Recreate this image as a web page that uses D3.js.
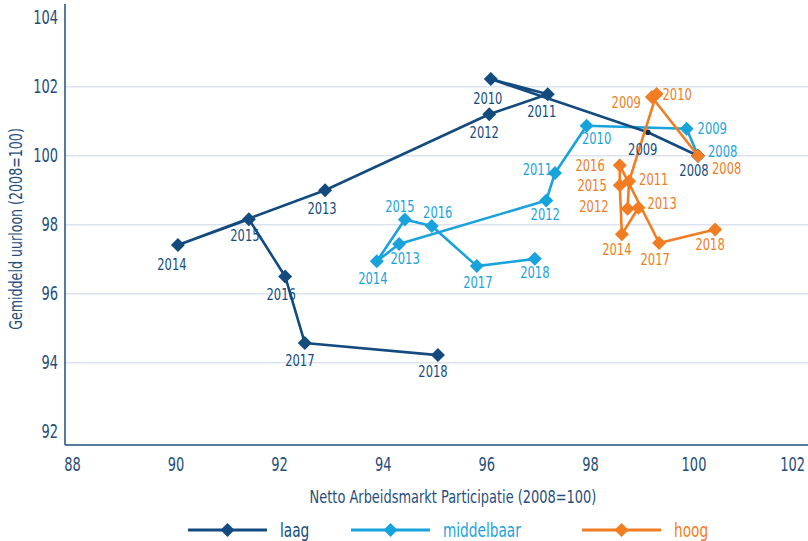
<!DOCTYPE html>
<html><head><meta charset="utf-8">
<script src="https://cdn.jsdelivr.net/npm/d3@7"></script>
<style>
html,body{margin:0;padding:0;background:#fff;}
svg text{font-family:"Liberation Sans Narrow","DejaVu Sans Condensed","Liberation Sans",sans-serif;}
</style></head>
<body><svg id="c" width="808" height="541"></svg>
<script>
const years = [2008,2009,2010,2011,2012,2013,2014,2015,2016,2017,2018];
const laagX = [100, 99.03, 96.00, 97.10, 95.97, 92.80, 89.96, 91.33, 92.03, 92.41, 94.98];
const laagY = [100, 100.68, 102.22, 101.78, 101.20, 99.00, 97.41, 98.16, 96.50, 94.57, 94.22];
const midX  = [100, 99.78, 97.85, 97.24, 97.07, 94.23, 93.80, 94.34, 94.86, 95.73, 96.85];
const midY  = [100, 100.78, 100.87, 99.50, 98.70, 97.44, 96.94, 98.15, 97.96, 96.80, 97.01];
const hoogX = [100, 99.11, 99.20, 98.67, 98.64, 98.85, 98.53, 98.49, 98.49, 99.25, 100.33];
const hoogY = [100, 101.70, 101.79, 99.26, 98.46, 98.49, 97.72, 99.14, 99.72, 97.47, 97.86];
const xTicks = [88,90,92,94,96,98,100,102];
const yTicks = [92,94,96,98,100,102,104];
const gridTicks = [94,96,98,100,102];
const seriesNames = ["laag","middelbaar","hoog"];
const xTitle = "Netto Arbeidsmarkt Participatie (2008=100)";
const yTitle = "Gemiddeld uurloon (2008=100)";

// label placement [anchor, dx, dy]
const laagLab = [["middle",-4,15],["middle",-5,17],["middle",-3,19],["middle",-6,17],["middle",-5,18],["middle",-3,18],["middle",-6,19],["middle",-4,16],["middle",-4,18],["middle",-5,17],["middle",-5,16]];
const midLab = [["start",10,-4],["start",11,0],["middle",10,13],["end",-3,-4],["middle",-1,14],["middle",6,14],["middle",-4,17],["middle",-5,-13],["middle",6,-14],["middle",1,16],["middle",0,14]];
const hoogLab = [["start",14,13],["end",-11,5],["start",6,0],["start",10,-2],["end",-19,-2],["start",9,-4],["middle",-5,15],["end",-13,0],["end",-15,0],["middle",-4,16],["middle",-5,15]];

const colors = {laag:"#134b7f", middelbaar:"#19a3dd", hoog:"#f27c22"};
const axisColor = "#1f4e7c";

function condense(sel, f) {
  sel.each(function(){
    const w = this.getComputedTextLength();
    this.setAttribute("textLength", (w*f).toFixed(2));
    this.setAttribute("lengthAdjust", "spacingAndGlyphs");
  });
}

const svg = d3.select("#c");
const W = 808;
const x = d3.scaleLinear().domain([88,102]).range([76.4, 801.6]);
const y = d3.scaleLinear().domain([94,102]).range([362.7, 86.7]);
const pLeft = 65, pRight = 808, pBottom = 445, pTop = 4;

svg.append("g").selectAll("line").data(gridTicks).join("line")
  .attr("x1", pLeft).attr("x2", pRight).attr("y1", d=>y(d)).attr("y2", d=>y(d))
  .attr("stroke", "#dde3ee").attr("stroke-width", 1.5);

svg.append("line").attr("x1", pLeft).attr("x2", pLeft).attr("y1", pTop).attr("y2", pBottom)
  .attr("stroke", axisColor).attr("stroke-width", 1.5);
svg.append("line").attr("x1", pLeft).attr("x2", pRight).attr("y1", pBottom).attr("y2", pBottom)
  .attr("stroke", axisColor).attr("stroke-width", 1.5);

condense(svg.append("g").selectAll("text").data(yTicks).join("text")
  .attr("x", 58).attr("y", d=>y(d)).attr("dy","0.35em").attr("text-anchor","end")
  .attr("font-size", 19).attr("fill", axisColor).text(d=>d), 0.76);
const xt = svg.append("g").selectAll("text").data(xTicks).join("text")
  .attr("x", d=>x(d)-4).attr("y", 464).attr("dy","0.35em").attr("text-anchor","middle")
  .attr("font-size", 19).attr("fill", axisColor).text(d=>d);
condense(xt, 0.76);
xt.each(function(d){
  const half = +this.getAttribute("textLength")/2;
  const cx = Math.min(x(d)-4, W - half - 3);
  this.setAttribute("x", cx);
});

condense(svg.append("text").attr("x", 453).attr("y", 497).attr("dy","0.35em").attr("text-anchor","middle")
  .attr("font-size", 18).attr("fill", axisColor).text(xTitle), 0.8);
condense(svg.append("text").attr("transform","translate(16,229) rotate(-90)").attr("dy","0.35em")
  .attr("text-anchor","middle").attr("font-size", 18).attr("fill", axisColor).text(yTitle), 0.78);

const diamond = (cx, cy, r) => `M${cx},${cy-r}L${cx+r},${cy}L${cx},${cy+r}L${cx-r},${cy}Z`;

function drawSeries(name, xs, ys, labs, smallIdx) {
  const col = colors[name];
  const pts = years.map((yr,i)=>({yr, x:xs[i], y:ys[i], lab:labs[i], i}));
  const g = svg.append("g");
  g.append("path").datum(pts)
    .attr("d", d3.line().x(d=>x(d.x)).y(d=>y(d.y)))
    .attr("fill","none").attr("stroke", col).attr("stroke-width", 2.6).attr("stroke-linejoin","round");
  g.selectAll("path.m").data(pts.filter(d=>d.i!==smallIdx)).join("path").attr("class","m")
    .attr("d", d=>diamond(x(d.x), y(d.y), 7)).attr("fill", col);
  if (smallIdx != null) {
    const d = pts[smallIdx];
    g.append("circle").attr("cx", x(d.x)).attr("cy", y(d.y)).attr("r", 2.8).attr("fill", "#0b2a4a");
  }
  return {g, pts, col};
}

const sMid = drawSeries("middelbaar", midX, midY, midLab, null);
const sLaag = drawSeries("laag", laagX, laagY, laagLab, 1);
const sHoog = drawSeries("hoog", hoogX, hoogY, hoogLab, null);

[sMid, sLaag, sHoog].forEach(s => {
  condense(svg.append("g").selectAll("text").data(s.pts).join("text")
    .attr("x", d=>x(d.x)+d.lab[1]).attr("y", d=>y(d.y)+d.lab[2]).attr("dy","0.35em")
    .attr("text-anchor", d=>d.lab[0]).attr("font-size", 16).attr("fill", s.col).text(d=>d.yr), 0.8);
});

const legX = [188, 351, 582];
seriesNames.forEach((n,i)=>{
  const lg = svg.append("g");
  const x0 = legX[i];
  lg.append("line").attr("x1", x0).attr("x2", x0+79).attr("y1", 530).attr("y2", 530)
    .attr("stroke", colors[n]).attr("stroke-width", 3);
  lg.append("path").attr("d", diamond(x0+39.5, 530, 7)).attr("fill", colors[n]);
  condense(lg.append("text").attr("x", x0+92).attr("y", 530).attr("dy","0.35em").attr("font-size", 19)
    .attr("fill", colors[n]).text(n), 0.8);
});
</script></body></html>
